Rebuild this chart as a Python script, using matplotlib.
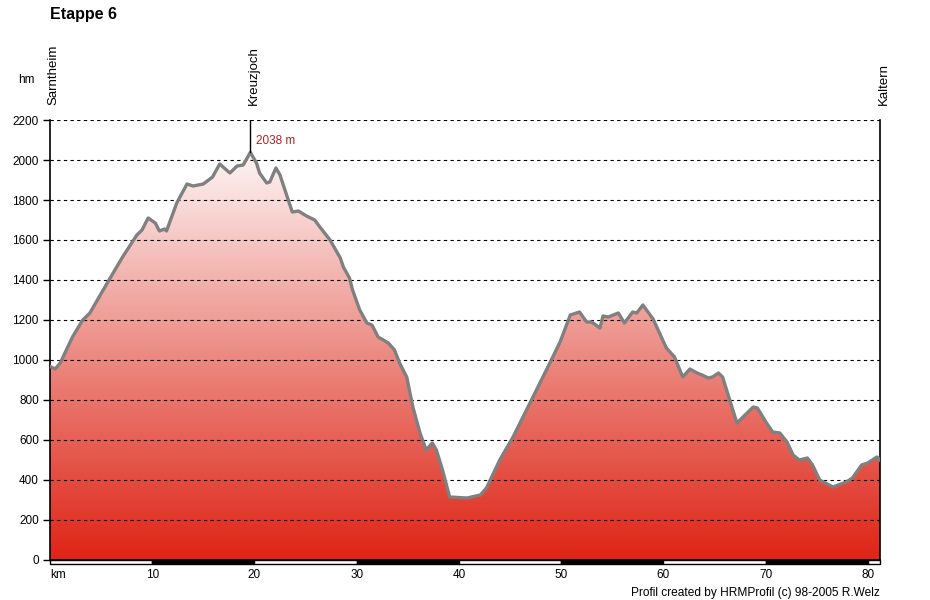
import numpy as np
import matplotlib.pyplot as plt
from matplotlib.colors import LinearSegmentedColormap
import matplotlib.transforms as mtransforms

plt.rcParams['font.family'] = ['Liberation Sans', 'DejaVu Sans']

# profile: distance (km) and elevation (m)
km = [0.0, 0.5, 1.0, 2.2, 3.2, 3.9, 5.6, 7.1, 8.5, 9.0, 9.6, 10.3, 10.7, 11.2, 11.4,
      12.4, 13.4, 14.0, 15.0, 15.9, 16.6, 17.6, 18.3, 18.9, 19.6, 20.2, 20.5, 21.2,
      21.5, 22.1, 22.5, 23.7, 24.3, 25.1, 25.9, 26.4, 27.4, 28.4, 28.7, 29.3, 29.6,
      30.3, 31.0, 31.5, 32.1, 33.1, 33.7, 34.2, 34.9, 35.5, 36.2, 36.8, 37.4, 37.8,
      38.4, 39.1, 40.8, 42.1, 42.7, 44.0, 45.3, 47.2, 48.9, 49.9, 50.9, 51.8, 52.5,
      53.0, 53.8, 54.1, 54.6, 55.6, 56.2, 57.0, 57.4, 58.0, 59.0, 60.3, 61.1, 61.9,
      62.6, 63.3, 63.8, 64.4, 64.8, 65.4, 65.8, 66.5, 67.2, 68.8, 69.2, 70.1, 70.7,
      71.4, 72.1, 72.7, 73.3, 74.1, 74.6, 75.3, 76.6, 77.9, 78.5, 79.4, 80.0, 80.9, 81.2]
hm = [968, 955, 985, 1115, 1200, 1235, 1385, 1515, 1625, 1650, 1710, 1685, 1645, 1655, 1645,
      1785, 1880, 1870, 1880, 1915, 1980, 1935, 1970, 1975, 2038, 1985, 1935, 1885,
      1890, 1960, 1925, 1740, 1745, 1720, 1700, 1665, 1600, 1510, 1465, 1410, 1350,
      1250, 1185, 1175, 1115, 1085, 1050, 985, 915, 765, 635, 550, 585, 550,
      450, 315, 310, 325, 360, 500, 615, 810, 985, 1090, 1225, 1240, 1190,
      1190, 1160, 1220, 1215, 1235, 1185, 1240, 1235, 1275, 1205, 1060, 1015, 915,
      955, 935, 925, 910, 915, 935, 915, 800, 685, 765, 760, 685, 640,
      635, 590, 525, 500, 510, 475, 400, 365, 390, 410, 475, 485, 515, 500]

places = ["Sarntheim", "Kreuzjoch", "Kaltern"]
place_km = [0.0, 19.6, 81.2]
peak_label = "2038 m"
yticks = [0, 200, 400, 600, 800, 1000, 1200, 1400, 1600, 1800, 2000, 2200]
xticks = [10, 20, 30, 40, 50, 60, 70, 80]

W, H = 930, 600
fig = plt.figure(figsize=(W / 100, H / 100), dpi=100)
ax = fig.add_axes([50 / W, (H - 560) / H, 830 / W, 440 / H])
kmax = km[-1]
ax.set_xlim(0, kmax)
ax.set_ylim(0, 2200)

# gradient fill under the profile
cmap = LinearSegmentedColormap.from_list("prof", ["#df2416", "#ec8a82", "#fdf5f5"])
grad = np.linspace(0, 1, 256).reshape(-1, 1)
poly = ax.fill_between(km, hm, 0, color="none", lw=0)
img = ax.imshow(grad, extent=[0, kmax, 0, max(hm)], origin="lower", aspect="auto",
                cmap=cmap, zorder=1)
img.set_clip_path(poly.get_paths()[0], transform=ax.transData)

for y in yticks:
    ax.axhline(y, color="black", lw=0.8, ls=(0, (3, 3)), zorder=3)

ax.plot(km, hm, color="#808080", lw=2.4, zorder=4, solid_joinstyle="round")

# axes styling
for s in ["top", "bottom"]:
    ax.spines[s].set_visible(False)
ax.spines["left"].set_linewidth(1.2)
ax.spines["right"].set_linewidth(1.2)
ax.set_yticks(yticks)
ax.set_yticklabels([str(v) for v in yticks], fontsize=8.5)
ax.tick_params(axis="y", length=5, width=1, pad=3)
ax.set_xticks([])

# black/white distance bar
for i in range(9):
    x0 = i * 10
    x1 = min(x0 + 10, kmax)
    ax.add_patch(plt.Rectangle((x0, 0), x1 - x0, -20, facecolor="black" if i % 2 else "white",
                               edgecolor="black", lw=1, clip_on=False, zorder=5))
ax.plot([0, kmax], [0, 0], color="black", lw=1.2, clip_on=False, zorder=5)

trans = mtransforms.blended_transform_factory(ax.transData, ax.transAxes)
for x in xticks:
    ax.text(x, -0.02, str(x), transform=trans, ha="center", va="top", fontsize=8.5)
ax.text(0, -0.02, "km", transform=trans, ha="left", va="top", fontsize=8.5)

# place names
for name, x in zip(places, place_km):
    ax.text(x + 0.35, 1.035, name, transform=trans, rotation=90, ha="center", va="bottom",
            fontsize=9.5)
ipk = int(np.argmax(hm))
ax.plot([km[ipk], km[ipk]], [2200, hm[ipk]], color="black", lw=1, zorder=5)
ax.text(km[ipk] + 0.6, 2095, peak_label, color="#b22222", fontsize=8.5, va="center", ha="left")

fig.text(50 / W, 1 - 14 / H, "Etappe 6", fontsize=11.5, fontweight="bold", va="center")
fig.text(26 / W, 1 - 80 / H, "hm", fontsize=8.5, ha="center", va="center")
fig.text(880 / W, 1 - 593 / H, "Profil created by HRMProfil (c) 98-2005 R.Welz", fontsize=8.6,
         ha="right", va="center")

fig.savefig("out.png", dpi=100, facecolor="white")
